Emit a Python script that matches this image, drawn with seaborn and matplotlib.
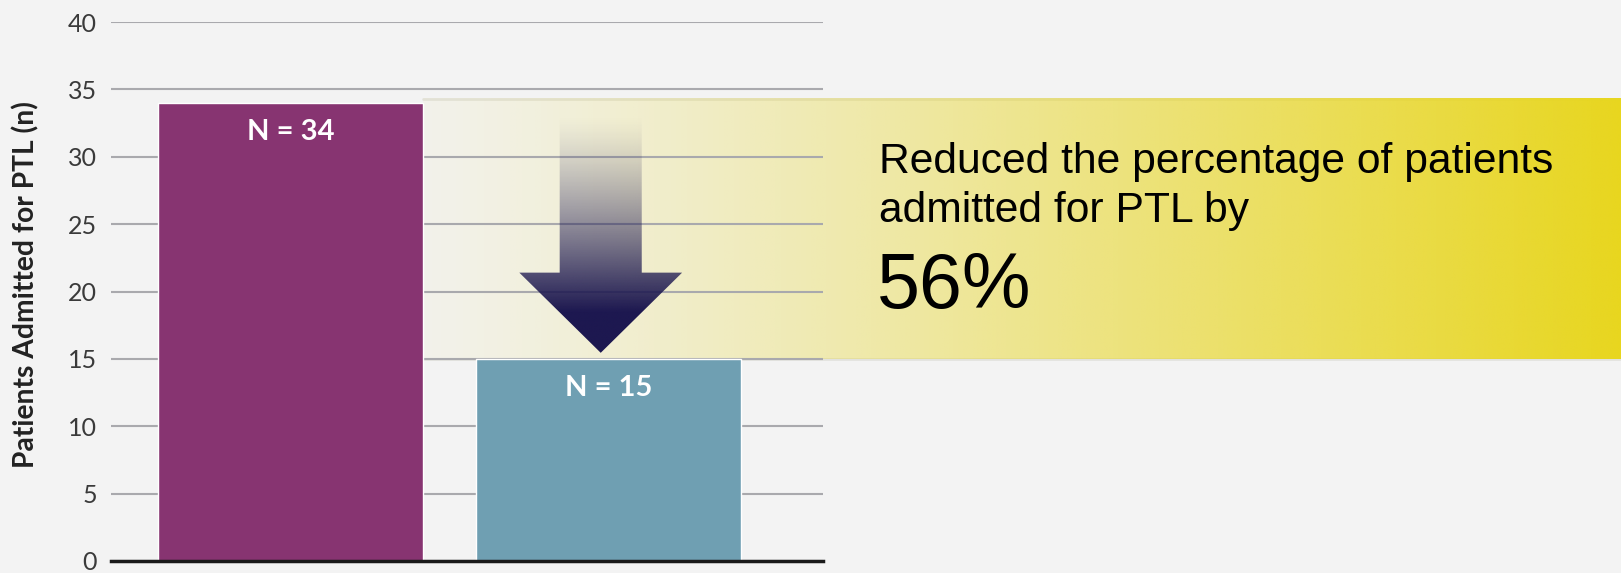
import numpy as np
import pandas as pd
import matplotlib
matplotlib.use("Agg")
import matplotlib.pyplot as plt
import seaborn as sns
from matplotlib.path import Path
from matplotlib.patches import PathPatch
from matplotlib.colors import to_rgb

# Data
groups = ["Before", "After"]
patients = [34, 15]
bar_labels = ["N = 34", "N = 15"]
bar_colors = ["#873471", "#6f9fb2"]
reduction_pct = 56
y_ticks = [0, 5, 10, 15, 20, 25, 30, 35, 40]

BG = "#f3f3f3"
W, H, DPI = 1621, 573, 100

sns.set_theme(style="white")
plt.rcParams["font.family"] = ["Lato", "DejaVu Sans"]

fig = plt.figure(figsize=(W / DPI, H / DPI), dpi=DPI, facecolor=BG)
ax = fig.add_axes([111 / W, 1 - 561 / H, (823 - 111) / W, (561 - 22) / H])
ax.set_facecolor(BG)

df = pd.DataFrame({"group": groups, "n": patients})
sns.barplot(data=df, x="group", y="n", hue="group", palette=bar_colors,
            width=0.833, saturation=1, legend=False, ax=ax, zorder=3)

ax.set_xlim(-0.564, 1.675)
ax.set_ylim(0, 40)
ax.set_yticks(y_ticks)
ax.set_yticklabels([str(t) for t in y_ticks], fontsize=18, color="#3a3a3a")
ax.set_xticks([])
ax.set_xlabel("")
ax.set_ylabel("Patients Admitted for PTL (n)", fontsize=20.3, fontweight="bold",
              color="#222222")
ax.yaxis.set_label_coords(-0.100, 0.512)
ax.tick_params(axis="y", length=0, pad=10)
ax.grid(axis="y", color="#a9a9ad", linewidth=1.5)
ax.set_axisbelow(True)
for s in ["top", "right", "left"]:
    ax.spines[s].set_visible(False)
ax.spines["bottom"].set_color("#1a1a1a")
ax.spines["bottom"].set_linewidth(2.5)
ax.spines["bottom"].set_zorder(5)

# value labels inside bars, a fixed distance below each bar top
for i, (v, lab) in enumerate(zip(patients, bar_labels)):
    ax.annotate(lab, xy=(i, v), xytext=(0, -21), textcoords="offset points",
                ha="center", va="center", color="white",
                fontsize=21, fontweight="bold", zorder=6)

# highlight band spanning from the lower to the higher bar value
bar_half = 0.833 / 2
x_left = 0 + bar_half
x_right = ax.transData.inverted().transform((W, 0))[0]
y_lo, y_hi = patients[1], patients[0] + 0.3
n = 512
t = np.linspace(0, 1, n)
yellow = np.array(to_rgb("#e8d61e"))
alpha = 0.04 + 0.96 * t ** 1.15
band = np.zeros((1, n, 4))
band[0, :, :3] = yellow
band[0, :, 3] = alpha
ax.imshow(band, extent=[x_left, x_right, y_lo, y_hi], aspect="auto",
          interpolation="bilinear", clip_on=False, zorder=0.3)
for yy in (y_lo, y_hi):
    ax.plot([x_left, x_right], [yy, yy], color="#d8d8d0", lw=2.0,
            alpha=0.6, clip_on=False, zorder=0.25)

# downward arrow with fading gradient
cx = 0.976
shaft_hw, head_hw = 0.129, 0.256
shaft_top, head_top, tip = 33.6, 21.4, patients[1] + 0.45
verts = [(cx - shaft_hw, shaft_top), (cx + shaft_hw, shaft_top),
         (cx + shaft_hw, head_top), (cx + head_hw, head_top),
         (cx, tip), (cx - head_hw, head_top), (cx - shaft_hw, head_top),
         (cx - shaft_hw, shaft_top)]
codes = [Path.MOVETO] + [Path.LINETO] * 6 + [Path.CLOSEPOLY]
clip = PathPatch(Path(verts, codes), facecolor="none", edgecolor="none",
                 transform=ax.transData)
ax.add_patch(clip)
m = 400
s = np.linspace(0, 1, m)[:, None]  # 0 at top, 1 at bottom
navy = np.array(to_rgb("#1d1850"))
arr = np.zeros((m, 1, 4))
arr[:, 0, :3] = navy
a = np.clip((s[:, 0] - 0.03) / 0.8, 0, 1) ** 1.3
arr[:, 0, 3] = a
im = ax.imshow(arr, extent=[cx - head_hw, cx + head_hw, tip, shaft_top],
               aspect="auto", interpolation="bilinear", clip_on=True,
               zorder=4)
im.set_clip_path(clip)

ax.set_xlim(-0.564, 1.675)
ax.set_ylim(0, 40)

# callout text
txt_font = ["Liberation Sans", "Arimo", "DejaVu Sans"]
fig.text(879 / W, 1 - 173 / H, "Reduced the percentage of patients",
         fontsize=30.7, family=txt_font, color="black", va="baseline")
fig.text(879 / W, 1 - 222 / H, "admitted for PTL by",
         fontsize=30.7, family=txt_font, color="black", va="baseline")
fig.text(877 / W, 1 - 308 / H, f"{reduction_pct}%",
         fontsize=55.5, family=txt_font, color="black", va="baseline")

fig.savefig("out.png", dpi=DPI, facecolor=BG)
